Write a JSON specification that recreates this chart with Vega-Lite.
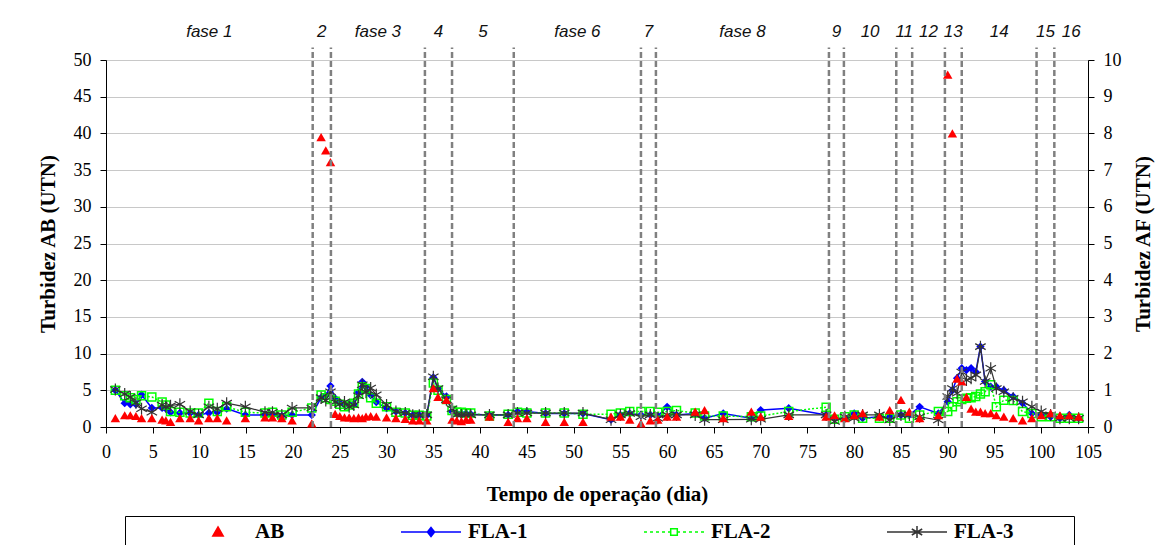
{
  "$schema": "https://vega.github.io/schema/vega-lite/v6.json",
  "width": 982,
  "height": 367,
  "autosize": {"type": "none"},
  "padding": {"left": 106, "top": 60, "right": 71, "bottom": 118},
  "background": "white",
  "config": {
    "view": {"stroke": "#808080", "strokeWidth": 1},
    "axis": {
      "labelFont": "Liberation Serif",
      "labelFontSize": 18,
      "labelColor": "#000000",
      "titleFont": "Liberation Serif",
      "titleFontSize": 21,
      "titleFontWeight": "bold",
      "titleColor": "#000000",
      "domainColor": "#000000",
      "domainWidth": 1,
      "tickColor": "#000000",
      "tickWidth": 1,
      "tickSize": 6,
      "labelFlush": false,
      "labelOverlap": false
    },
    "legend": {
      "labelFont": "Liberation Serif",
      "labelFontSize": 21,
      "labelFontWeight": "bold",
      "labelColor": "#000000",
      "labelOffset": 26,
      "strokeColor": "#000000",
      "strokeWidth": 1,
      "padding": 5,
      "columnPadding": 113,
      "symbolStrokeWidth": 1.5,
      "symbolSize": 400,
      "symbolOpacity": 1
    }
  },
  "datasets": {
    "medicoes": [
      {"d": 1, "AB": 1.2, "F1": 1.0, "F2": 1.0, "F3": 1.02},
      {"d": 2, "AB": 1.6, "F1": 0.65, "F2": 0.85, "F3": 0.9},
      {"d": 2.6, "AB": 1.6, "F1": 0.62, "F2": 0.8, "F3": 0.82},
      {"d": 3.2, "AB": 1.5, "F1": 0.62, "F2": 0.74, "F3": 0.66},
      {"d": 3.8, "AB": 1.2, "F1": 0.88, "F2": 0.85, "F3": 0.5},
      {"d": 4.9, "AB": 1.2, "F1": 0.52, "F2": 0.82, "F3": 0.4},
      {"d": 6, "AB": 1.0, "F1": 0.52, "F2": 0.68, "F3": 0.6},
      {"d": 6.4, "AB": 0.9, "F1": 0.5, "F2": 0.6, "F3": 0.55},
      {"d": 6.9, "AB": 0.7, "F1": 0.4, "F2": 0.42, "F3": 0.58},
      {"d": 7.9, "AB": 1.2, "F1": 0.38, "F2": 0.4, "F3": 0.62},
      {"d": 9, "AB": 1.2, "F1": 0.38, "F2": 0.38, "F3": 0.42},
      {"d": 9.9, "AB": 0.9, "F1": 0.33, "F2": 0.38, "F3": 0.33},
      {"d": 11, "AB": 1.2, "F1": 0.38, "F2": 0.65, "F3": 0.55},
      {"d": 11.9, "AB": 1.2, "F1": 0.4, "F2": 0.42, "F3": 0.5},
      {"d": 12.9, "AB": 0.9, "F1": 0.5, "F2": 0.55, "F3": 0.65},
      {"d": 14.9, "AB": 1.2, "F1": 0.33, "F2": 0.4, "F3": 0.55},
      {"d": 17, "AB": 1.3, "F1": 0.33, "F2": 0.38, "F3": 0.4},
      {"d": 17.8, "AB": 1.3, "F1": 0.33, "F2": 0.4, "F3": 0.4},
      {"d": 18.8, "AB": 1.2, "F1": 0.3, "F2": 0.33, "F3": 0.33},
      {"d": 19.9, "AB": 0.9, "F1": 0.33, "F2": 0.4, "F3": 0.52},
      {"d": 22, "AB": 0.5, "F1": 0.33, "F2": 0.52, "F3": 0.52},
      {"d": 23, "AB": 39.5, "F1": 0.8, "F2": 0.87, "F3": 0.8},
      {"d": 23.5, "AB": 37.7, "F1": 0.85, "F2": 0.8, "F3": 0.72},
      {"d": 24, "AB": 36.1, "F1": 1.12, "F2": 0.75, "F3": 0.96},
      {"d": 24.5, "AB": 1.8, "F1": 0.78, "F2": 0.7, "F3": 0.68},
      {"d": 25, "AB": 1.5, "F1": 0.65, "F2": 0.62, "F3": 0.62},
      {"d": 25.5, "AB": 1.3, "F1": 0.6, "F2": 0.55, "F3": 0.68},
      {"d": 26, "AB": 1.3, "F1": 0.62, "F2": 0.6, "F3": 0.55},
      {"d": 26.5, "AB": 1.2, "F1": 0.62, "F2": 0.65, "F3": 0.6},
      {"d": 27, "AB": 1.3, "F1": 0.95, "F2": 0.9, "F3": 0.85},
      {"d": 27.4, "AB": 1.2, "F1": 1.23, "F2": 1.1, "F3": 1.15},
      {"d": 27.8, "AB": 1.4, "F1": 1.1, "F2": 1.05, "F3": 0.95},
      {"d": 28.3, "AB": 1.5, "F1": 0.87, "F2": 0.8, "F3": 1.06},
      {"d": 28.9, "AB": 1.4, "F1": 0.68, "F2": 0.65, "F3": 0.88},
      {"d": 30, "AB": 1.3, "F1": 0.51, "F2": 0.55, "F3": 0.6},
      {"d": 31, "AB": 1.2, "F1": 0.42, "F2": 0.4, "F3": 0.42},
      {"d": 32, "AB": 1.1, "F1": 0.38, "F2": 0.38, "F3": 0.38},
      {"d": 32.8, "AB": 0.9, "F1": 0.32, "F2": 0.32, "F3": 0.32},
      {"d": 33.5, "AB": 0.9, "F1": 0.32, "F2": 0.32, "F3": 0.32},
      {"d": 34.3, "AB": 0.9, "F1": 0.32, "F2": 0.3, "F3": 0.33},
      {"d": 35, "AB": 5.3, "F1": 1.35, "F2": 1.2, "F3": 1.37},
      {"d": 35.5, "AB": 4.1, "F1": 1.05, "F2": 1.0, "F3": 1.05},
      {"d": 36.4, "AB": 3.7, "F1": 0.83, "F2": 0.75, "F3": 0.74},
      {"d": 37, "AB": 1.0, "F1": 0.42, "F2": 0.45, "F3": 0.5},
      {"d": 37.5, "AB": 0.9, "F1": 0.37, "F2": 0.4, "F3": 0.33},
      {"d": 38, "AB": 0.8, "F1": 0.37, "F2": 0.4, "F3": 0.33},
      {"d": 38.5, "AB": 1.0, "F1": 0.37, "F2": 0.38, "F3": 0.33},
      {"d": 39, "AB": 1.0, "F1": 0.35, "F2": 0.38, "F3": 0.33},
      {"d": 41, "AB": 1.4, "F1": 0.33, "F2": 0.3, "F3": 0.33},
      {"d": 43, "AB": 0.7, "F1": 0.33, "F2": 0.35, "F3": 0.33},
      {"d": 44, "AB": 1.2, "F1": 0.42, "F2": 0.4, "F3": 0.38},
      {"d": 45, "AB": 1.2, "F1": 0.42, "F2": 0.38, "F3": 0.38},
      {"d": 47, "AB": 0.7, "F1": 0.37, "F2": 0.38, "F3": 0.38},
      {"d": 49, "AB": 0.7, "F1": 0.37, "F2": 0.38, "F3": 0.38},
      {"d": 51, "AB": 0.7, "F1": 0.37, "F2": 0.35, "F3": 0.38},
      {"d": 54, "AB": 1.4, "F1": 0.2, "F2": 0.35, "F3": 0.2},
      {"d": 55, "AB": 1.4, "F1": 0.33, "F2": 0.38, "F3": 0.33},
      {"d": 56, "AB": 1.0, "F1": 0.37, "F2": 0.42, "F3": 0.37},
      {"d": 57.2, "AB": 0.5, "F1": 0.33, "F2": 0.42, "F3": 0.28},
      {"d": 58.2, "AB": 0.9, "F1": 0.33, "F2": 0.42, "F3": 0.33},
      {"d": 59, "AB": 1.0, "F1": 0.3, "F2": 0.4, "F3": 0.24},
      {"d": 60, "AB": 1.4, "F1": 0.55, "F2": 0.42, "F3": 0.33},
      {"d": 61, "AB": 1.4, "F1": 0.33, "F2": 0.45, "F3": 0.33},
      {"d": 63, "AB": 2.1, "F1": 0.37, "F2": 0.38, "F3": 0.33},
      {"d": 64, "AB": 2.3, "F1": 0.24, "F2": 0.3, "F3": 0.2},
      {"d": 66, "AB": 1.2, "F1": 0.37, "F2": 0.3, "F3": 0.2},
      {"d": 69, "AB": 2.1, "F1": 0.24, "F2": 0.28, "F3": 0.21},
      {"d": 70, "AB": 1.4, "F1": 0.46, "F2": 0.3, "F3": 0.21},
      {"d": 73, "AB": 1.5, "F1": 0.51, "F2": 0.42, "F3": 0.33},
      {"d": 77, "AB": 1.4, "F1": 0.33, "F2": 0.54, "F3": 0.33},
      {"d": 77.9, "AB": 1.6, "F1": 0.24, "F2": 0.21, "F3": 0.15},
      {"d": 79, "AB": 1.2, "F1": 0.24, "F2": 0.28, "F3": 0.28},
      {"d": 80, "AB": 1.6, "F1": 0.37, "F2": 0.33, "F3": 0.24},
      {"d": 80.9, "AB": 1.9, "F1": 0.24, "F2": 0.24, "F3": 0.33},
      {"d": 82.7, "AB": 1.4, "F1": 0.28, "F2": 0.24, "F3": 0.33},
      {"d": 83.8, "AB": 2.3, "F1": 0.28, "F2": 0.24, "F3": 0.19},
      {"d": 85, "AB": 3.7, "F1": 0.33, "F2": 0.33, "F3": 0.33},
      {"d": 85.9, "AB": 2.1, "F1": 0.33, "F2": 0.24, "F3": 0.33},
      {"d": 87, "AB": 1.2, "F1": 0.55, "F2": 0.33, "F3": 0.28},
      {"d": 89, "AB": 1.6, "F1": 0.37, "F2": 0.42, "F3": 0.19},
      {"d": 90, "AB": 48.0, "F1": 0.69, "F2": 0.42, "F3": 0.83},
      {"d": 90.5, "AB": 40.0, "F1": 1.0, "F2": 0.55, "F3": 1.05},
      {"d": 91, "AB": 6.6, "F1": 1.33, "F2": 0.69, "F3": 0.92},
      {"d": 91.5, "AB": 6.2, "F1": 1.6, "F2": 0.75, "F3": 1.5},
      {"d": 92, "AB": 4.1, "F1": 1.55, "F2": 0.78, "F3": 1.28},
      {"d": 92.5, "AB": 2.5, "F1": 1.6, "F2": 0.8, "F3": 1.33},
      {"d": 93, "AB": 2.1, "F1": 1.5, "F2": 0.83, "F3": 1.42},
      {"d": 93.5, "AB": 2.1, "F1": 2.19, "F2": 0.9, "F3": 2.19},
      {"d": 94, "AB": 1.9, "F1": 1.24, "F2": 0.96, "F3": 1.24},
      {"d": 94.6, "AB": 1.9, "F1": 1.1, "F2": 1.15, "F3": 1.6},
      {"d": 95.2, "AB": 1.6, "F1": 1.1, "F2": 0.55, "F3": 1.05},
      {"d": 96, "AB": 1.4, "F1": 1.0, "F2": 0.73, "F3": 0.96},
      {"d": 97, "AB": 1.2, "F1": 0.83, "F2": 0.72, "F3": 0.78},
      {"d": 98, "AB": 0.9, "F1": 0.65, "F2": 0.42, "F3": 0.69},
      {"d": 99, "AB": 1.2, "F1": 0.37, "F2": 0.37, "F3": 0.55},
      {"d": 100, "AB": 1.6, "F1": 0.33, "F2": 0.28, "F3": 0.42},
      {"d": 101, "AB": 1.9, "F1": 0.28, "F2": 0.28, "F3": 0.33},
      {"d": 102, "AB": 1.6, "F1": 0.24, "F2": 0.24, "F3": 0.24},
      {"d": 103, "AB": 1.6, "F1": 0.33, "F2": 0.24, "F3": 0.24},
      {"d": 104, "AB": 1.4, "F1": 0.24, "F2": 0.24, "F3": 0.24}
    ],
    "fases": [
      {"fase": "fase 1", "ini": 0, "fim": 22.1},
      {"fase": "2", "ini": 22.1, "fim": 24.05},
      {"fase": "fase 3", "ini": 24.05, "fim": 34.1},
      {"fase": "4", "ini": 34.1, "fim": 37.0},
      {"fase": "5", "ini": 37.0, "fim": 43.6},
      {"fase": "fase 6", "ini": 43.6, "fim": 57.2},
      {"fase": "7", "ini": 57.2, "fim": 58.8},
      {"fase": "fase 8", "ini": 58.8, "fim": 77.3},
      {"fase": "9", "ini": 77.3, "fim": 78.9},
      {"fase": "10", "ini": 78.9, "fim": 84.5},
      {"fase": "11", "ini": 84.5, "fim": 86.2},
      {"fase": "12", "ini": 86.2, "fim": 89.7},
      {"fase": "13", "ini": 89.7, "fim": 91.5},
      {"fase": "14", "ini": 91.5, "fim": 99.5},
      {"fase": "15", "ini": 99.5, "fim": 101.4},
      {"fase": "16", "ini": 101.4, "fim": 105}
    ],
    "series": [
      {"s": "AB"},
      {"s": "FLA-1"},
      {"s": "FLA-2"},
      {"s": "FLA-3"}
    ]
  },
  "layer": [
    {
      "data": {"name": "medicoes"},
      "layer": [
        {
          "mark": {"type": "line", "color": "#0000ff", "strokeWidth": 1.5,
                   "point": {"shape": "diamond", "filled": true, "size": 70, "color": "#0000ff", "opacity": 1}},
          "encoding": {
            "x": {"field": "d", "type": "quantitative", "scale": {"domain": [0, 105], "nice": false, "zero": false},
                  "axis": {"title": "Tempo de operação (dia)", "values": [0, 5, 10, 15, 20, 25, 30, 35, 40, 45, 50, 55, 60, 65, 70, 75, 80, 85, 90, 95, 100, 105], "grid": false, "labelFont": "Liberation Serif", "labelPadding": 10, "titlePadding": 22}},
            "y": {"field": "F1", "type": "quantitative", "scale": {"domain": [0, 10], "nice": false},
                  "axis": {"orient": "right", "title": "Turbidez AF (UTN)", "values": [0, 1, 2, 3, 4, 5, 6, 7, 8, 9, 10], "grid": false, "labelFont": "Liberation Serif", "labelPadding": 9, "titleAngle": 270, "titleBaseline": "top", "titlePadding": 11}}
          }
        },
        {
          "mark": {"type": "line", "color": "#00ff00", "strokeWidth": 1.5, "strokeDash": [2, 2],
                   "point": {"shape": "square", "filled": false, "size": 64, "color": "#00ff00", "strokeWidth": 1.5, "strokeDash": [], "opacity": 1}},
          "encoding": {
            "x": {"field": "d", "type": "quantitative", "scale": {"domain": [0, 105], "nice": false, "zero": false},
                  "axis": {"title": "Tempo de operação (dia)", "values": [0, 5, 10, 15, 20, 25, 30, 35, 40, 45, 50, 55, 60, 65, 70, 75, 80, 85, 90, 95, 100, 105], "grid": false, "labelFont": "Liberation Serif", "labelPadding": 10, "titlePadding": 22}},
            "y": {"field": "F2", "type": "quantitative", "scale": {"domain": [0, 10], "nice": false},
                  "axis": {"orient": "right", "title": "Turbidez AF (UTN)", "values": [0, 1, 2, 3, 4, 5, 6, 7, 8, 9, 10], "grid": false, "labelFont": "Liberation Serif", "labelPadding": 9, "titleAngle": 270, "titleBaseline": "top", "titlePadding": 11}}
          }
        },
        {
          "mark": {"type": "line", "color": "#333333", "strokeWidth": 1.2,
                   "point": {"shape": "M0 -1L0 1M-0.87 -0.5L0.87 0.5M-0.87 0.5L0.87 -0.5", "filled": false, "size": 144, "color": "#333333", "strokeWidth": 1.2, "opacity": 1}},
          "encoding": {
            "x": {"field": "d", "type": "quantitative", "scale": {"domain": [0, 105], "nice": false, "zero": false},
                  "axis": {"title": "Tempo de operação (dia)", "values": [0, 5, 10, 15, 20, 25, 30, 35, 40, 45, 50, 55, 60, 65, 70, 75, 80, 85, 90, 95, 100, 105], "grid": false, "labelFont": "Liberation Serif", "labelPadding": 10, "titlePadding": 22}},
            "y": {"field": "F3", "type": "quantitative", "scale": {"domain": [0, 10], "nice": false},
                  "axis": {"orient": "right", "title": "Turbidez AF (UTN)", "values": [0, 1, 2, 3, 4, 5, 6, 7, 8, 9, 10], "grid": false, "labelFont": "Liberation Serif", "labelPadding": 9, "titleAngle": 270, "titleBaseline": "top", "titlePadding": 11}}
          }
        }
      ]
    },
    {
      "layer": [
        {
          "data": {"name": "medicoes"},
          "mark": {"type": "point", "shape": "triangle-up", "filled": true, "size": 90, "color": "#ff0000", "opacity": 1},
          "encoding": {
            "x": {"field": "d", "type": "quantitative", "scale": {"domain": [0, 105], "nice": false, "zero": false},
                  "axis": {"title": "Tempo de operação (dia)", "values": [0, 5, 10, 15, 20, 25, 30, 35, 40, 45, 50, 55, 60, 65, 70, 75, 80, 85, 90, 95, 100, 105], "grid": false, "labelFont": "Liberation Serif", "labelPadding": 10, "titlePadding": 22}},
            "y": {"field": "AB", "type": "quantitative", "scale": {"domain": [0, 50], "nice": false},
                  "axis": {"orient": "left", "title": "Turbidez AB (UTN)", "values": [0, 5, 10, 15, 20, 25, 30, 35, 40, 45, 50], "grid": true, "gridColor": "#c8c8c8", "gridWidth": 1, "labelFont": "Liberation Serif", "labelPadding": 9, "titlePadding": 15}}
          }
        },
        {
          "data": {"name": "fases"},
          "transform": [{"filter": "datum.fim < 105"}],
          "mark": {"type": "rule", "color": "#808080", "strokeWidth": 2.5, "strokeDash": [6, 3]},
          "encoding": {
            "x": {"field": "fim", "type": "quantitative", "scale": {"domain": [0, 105], "nice": false, "zero": false},
                  "axis": {"title": "Tempo de operação (dia)", "values": [0, 5, 10, 15, 20, 25, 30, 35, 40, 45, 50, 55, 60, 65, 70, 75, 80, 85, 90, 95, 100, 105], "grid": false, "labelFont": "Liberation Serif", "labelPadding": 10, "titlePadding": 22}},
            "y": {"datum": 0, "type": "quantitative", "scale": {"domain": [0, 50], "nice": false},
                  "axis": {"orient": "left", "title": "Turbidez AB (UTN)", "values": [0, 5, 10, 15, 20, 25, 30, 35, 40, 45, 50], "grid": true, "gridColor": "#c8c8c8", "gridWidth": 1, "labelFont": "Liberation Serif", "labelPadding": 9, "titlePadding": 15}},
            "y2": {"datum": 51.7}
          }
        },
        {
          "data": {"name": "fases"},
          "transform": [{"calculate": "(datum.ini + datum.fim) / 2", "as": "meio"}],
          "mark": {"type": "text", "font": "Liberation Sans", "fontStyle": "italic", "fontSize": 17, "color": "#111111", "baseline": "middle", "align": "center"},
          "encoding": {
            "x": {"field": "meio", "type": "quantitative", "scale": {"domain": [0, 105], "nice": false, "zero": false},
                  "axis": {"title": "Tempo de operação (dia)", "values": [0, 5, 10, 15, 20, 25, 30, 35, 40, 45, 50, 55, 60, 65, 70, 75, 80, 85, 90, 95, 100, 105], "grid": false, "labelFont": "Liberation Serif", "labelPadding": 10, "titlePadding": 22}},
            "y": {"datum": 53.8, "type": "quantitative", "scale": {"domain": [0, 50], "nice": false},
                  "axis": {"orient": "left", "title": "Turbidez AB (UTN)", "values": [0, 5, 10, 15, 20, 25, 30, 35, 40, 45, 50], "grid": true, "gridColor": "#c8c8c8", "gridWidth": 1, "labelFont": "Liberation Serif", "labelPadding": 9, "titlePadding": 15}},
            "text": {"field": "fase"}
          }
        },
        {
          "data": {"name": "series"},
          "mark": {"type": "point", "filled": true, "opacity": 0},
          "encoding": {
            "shape": {"field": "s", "type": "nominal",
                      "scale": {"domain": ["AB", "FLA-1", "FLA-2", "FLA-3"],
                                "range": [
                                  "M0 -0.5L0.52 0.4L-0.52 0.4Z",
                                  "M-3 0L3 0M0 -0.45L0.36 0L0 0.45L-0.36 0Z",
                                  "M-3 0H-2.7M-2.4 0H-2.1M-1.8 0H-1.5M-1.2 0H-0.9M-0.6 0H-0.4M0.4 0H0.6M0.9 0H1.2M1.5 0H1.8M2.1 0H2.4M2.7 0H3M-0.33 -0.33H0.33V0.33H-0.33Z",
                                  "M-3 0L3 0M0 -0.6L0 0.6M-0.52 -0.3L0.52 0.3M-0.52 0.3L0.52 -0.3M14.9 0L14.9 0"
                                ]},
                      "legend": {"orient": "none", "legendX": 19, "legendY": 456, "direction": "horizontal", "columns": 4, "title": " ", "titleOrient": "left", "titlePadding": 77}},
            "fill": {"field": "s", "type": "nominal",
                     "scale": {"domain": ["AB", "FLA-1", "FLA-2", "FLA-3"], "range": ["#ff0000", "#0000ff", "#ffffff", "#333333"]},
                     "legend": {"orient": "none", "legendX": 19, "legendY": 456, "direction": "horizontal", "columns": 4, "title": " ", "titleOrient": "left", "titlePadding": 77}},
            "stroke": {"field": "s", "type": "nominal",
                       "scale": {"domain": ["AB", "FLA-1", "FLA-2", "FLA-3"], "range": ["#ff0000", "#0000ff", "#00ff00", "#333333"]},
                       "legend": {"orient": "none", "legendX": 19, "legendY": 456, "direction": "horizontal", "columns": 4, "title": " ", "titleOrient": "left", "titlePadding": 77}}
          }
        }
      ]
    }
  ],
  "resolve": {"scale": {"y": "independent"}}
}
